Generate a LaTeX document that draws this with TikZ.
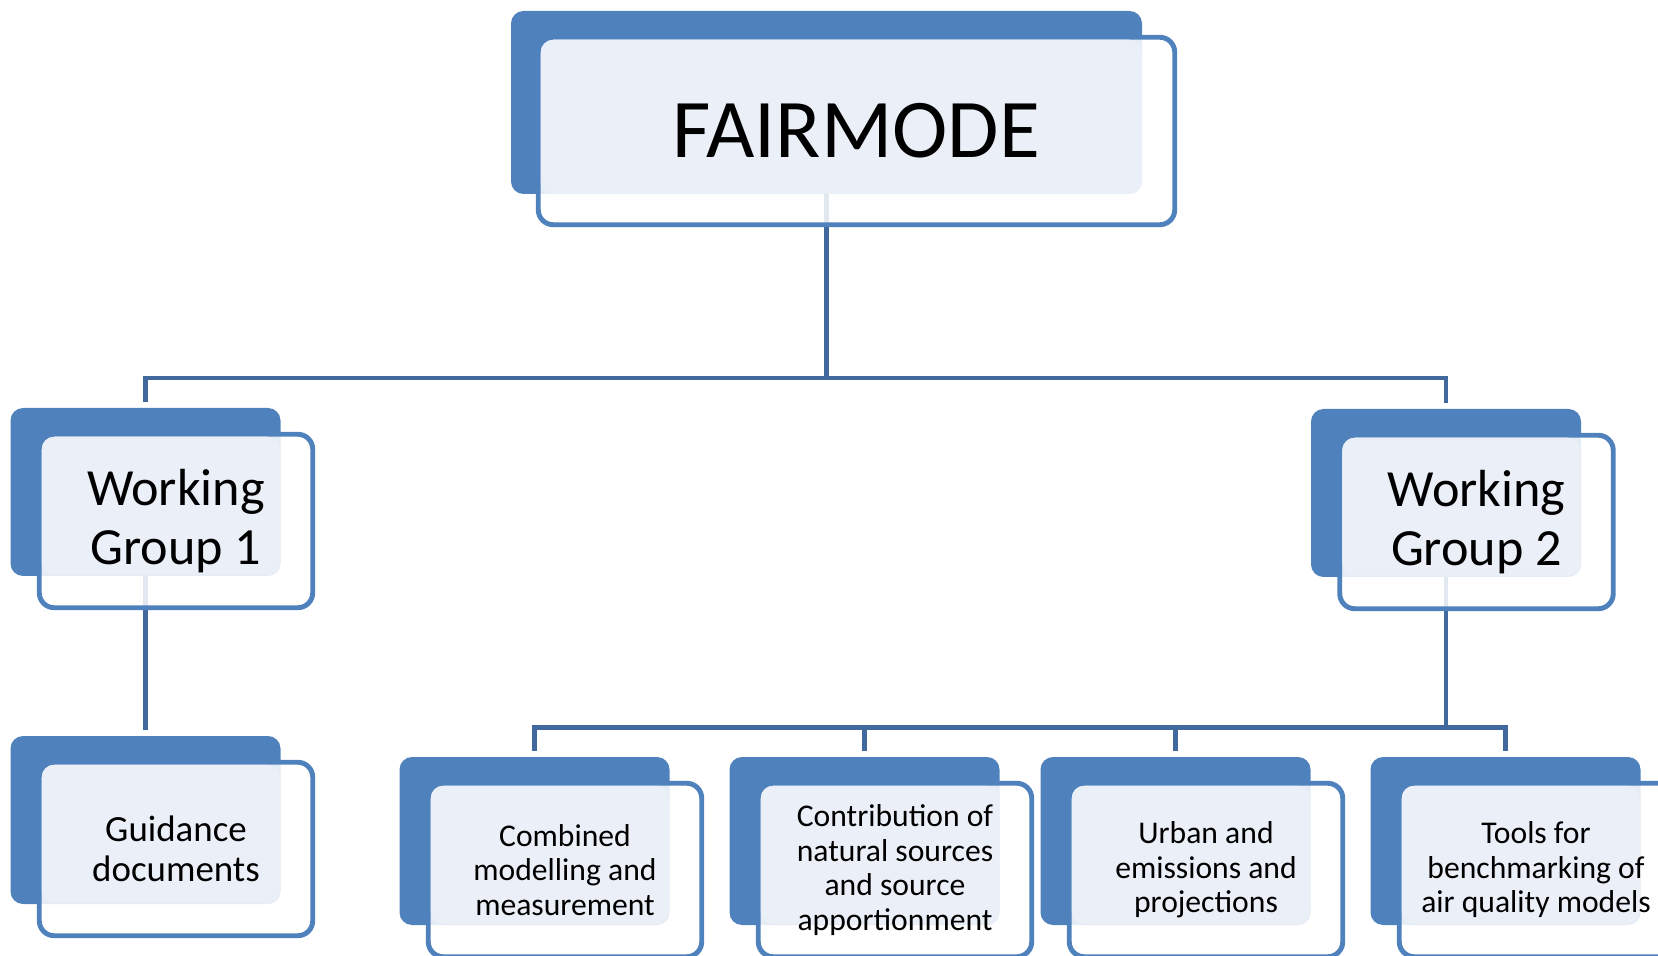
\documentclass[tikz,border=0pt]{standalone}
\usepackage{fontspec}
\setmainfont{Carlito}
\usetikzlibrary{positioning, backgrounds}

\definecolor{boxblue}{HTML}{4F81BD}
\definecolor{boxlight}{HTML}{EBF0F8}
\definecolor{linkblue}{HTML}{41699E}

\tikzset{
  backbox/.style={fill=boxblue, rounded corners=0.25cm, anchor=north west, inner sep=0, outer sep=0, minimum width=5.4cm, minimum height=3.36cm},
  frontbox/.style={draw=boxblue, line width=2.8pt, fill=white, fill opacity=0.85, rounded corners=0.3cm, inner sep=0, outer sep=0, minimum width=5.47cm, minimum height=3.47cm},
  lightbox/.style={fill=boxlight, rounded corners=0.25cm, inner sep=0, outer sep=0, minimum width=4.76cm, minimum height=2.76cm},
  boxtext/.style={align=center, text=black, inner sep=0},
  connector/.style={draw=linkblue, line width=2.8pt},
}

\begin{document}
\begin{tikzpicture}
	\useasboundingbox (0, 0) rectangle (33.16, -19.12);
	\clip (0, 0) rectangle (33.16, -19.12);

	% FAIRMODE
	\begin{scope}
		\node (fairmode_back) at (10.22, -0.22) [backbox, minimum width=12.62cm, minimum height=3.66cm] {};
		\node (fairmode_box) [frontbox, below right = 0.525cm and 0.545cm of fairmode_back.north west, minimum width=12.73cm, minimum height=3.75cm] {};
		\node (fairmode_fill) [lightbox, below right = 0.05cm and 0.05cm of fairmode_box.north west, minimum width=12.02cm, minimum height=3.08cm] {};
		\node (fairmode) at (fairmode_box) [boxtext, font=\fontsize{47.5}{52}\selectfont] {FAIRMODE};
	\end{scope}

	% Working groups
	\begin{scope}[every node/.append style={font=\fontsize{29.7}{33.5}\selectfont}]
		\node (wgone_back) at (0.21, -8.16) [backbox] {};
		\node (wgone_box) [frontbox, below right = 0.525cm and 0.575cm of wgone_back.north west] {};
		\node (wgone_fill) [lightbox, below right = 0.05cm and 0.05cm of wgone_box.north west] {};
		\node (wgone) at (wgone_box) [boxtext] {Working\\Group 1};

		\node (wgtwo_back) at (26.22, -8.18) [backbox] {};
		\node (wgtwo_box) [frontbox, below right = 0.525cm and 0.575cm of wgtwo_back.north west] {};
		\node (wgtwo_fill) [lightbox, below right = 0.05cm and 0.05cm of wgtwo_box.north west] {};
		\node (wgtwo) at (wgtwo_box) [boxtext] {Working\\Group 2};
	\end{scope}

	% Working Group 1
	\begin{scope}
		\node (guidance_back) at (0.21, -14.72) [backbox] {};
		\node (guidance_box) [frontbox, below right = 0.525cm and 0.575cm of guidance_back.north west] {};
		\node (guidance_fill) [lightbox, below right = 0.05cm and 0.05cm of guidance_box.north west] {};
		\node (guidance) at (guidance_box) [boxtext, font=\fontsize{21}{22.7}\selectfont] {Guidance\\documents};
	\end{scope}

	% Working Group 2
	\begin{scope}[every node/.append style={font=\fontsize{18}{19.6}\selectfont}]
		\node (combined_back) at (7.99, -15.14) [backbox] {};
		\node (combined_box) [frontbox, below right = 0.525cm and 0.575cm of combined_back.north west] {};
		\node (combined_fill) [lightbox, below right = 0.05cm and 0.05cm of combined_box.north west] {};
		\node (combined) at (combined_box) [boxtext] {Combined\\modelling and\\measurement};

		\node (natural_back) at (14.59, -15.14) [backbox] {};
		\node (natural_box) [frontbox, below right = 0.525cm and 0.575cm of natural_back.north west] {};
		\node (natural_fill) [lightbox, below right = 0.05cm and 0.05cm of natural_box.north west] {};
		\node (natural) at (natural_box) [boxtext] {Contribution of\\natural sources\\and source\\apportionment};

		\node (urban_back) at (20.81, -15.14) [backbox] {};
		\node (urban_box) [frontbox, below right = 0.525cm and 0.575cm of urban_back.north west] {};
		\node (urban_fill) [lightbox, below right = 0.05cm and 0.05cm of urban_box.north west] {};
		\node (urban) at (urban_box) [boxtext] {Urban and\\emissions and\\projections};

		\node (tools_back) at (27.41, -15.14) [backbox] {};
		\node (tools_box) [frontbox, below right = 0.525cm and 0.575cm of tools_back.north west] {};
		\node (tools_fill) [lightbox, below right = 0.05cm and 0.05cm of tools_box.north west] {};
		\node (tools) at (tools_box) [boxtext] {Tools for\\benchmarking of\\air quality models};
	\end{scope}

	% Connectors
	\begin{scope}[on background layer]
		\coordinate (fairmode_split) at ([yshift=-3.68cm] fairmode_back.south);
		\coordinate (wgtwo_split) at ([yshift=-3.01cm] wgtwo_back.south);

		\draw [connector, shorten >=0.12cm] (fairmode_back.south) -- (fairmode_split) -| (wgone_back.north);
		\draw [connector, shorten >=0.12cm] (fairmode_split) -| (wgtwo_back.north);
		\draw [connector, shorten >=0.12cm] (wgone_back.south) -- (guidance_back.north);

		\draw [connector] (wgtwo_back.south) -- (wgtwo_split);
		\draw [connector, shorten >=0.12cm] (wgtwo_split) -| (combined_back.north);
		\draw [connector, shorten >=0.12cm] (wgtwo_split) -| (natural_back.north);
		\draw [connector, shorten >=0.12cm] (wgtwo_split) -| (urban_back.north);
		\draw [connector, shorten >=0.12cm] (wgtwo_split) -| (tools_back.north);
	\end{scope}

\end{tikzpicture}
\end{document}
